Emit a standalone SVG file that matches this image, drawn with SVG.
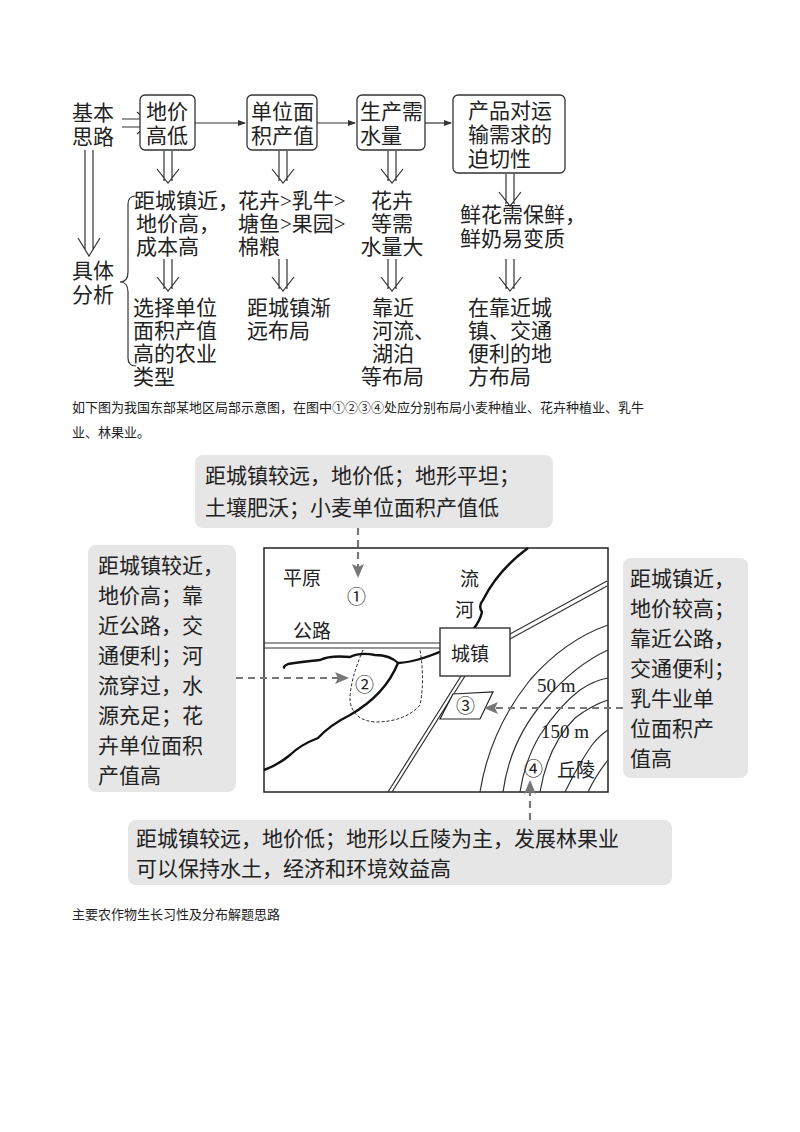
<svg xmlns="http://www.w3.org/2000/svg" width="800" height="1132" viewBox="0 0 800 1132">
<style>
text{font-family:"Liberation Serif","Noto Sans CJK SC",serif;fill:#222}
.t{font-size:21px}
.m{font-size:19px}
.c{font-size:13px}
.box{fill:#fff;stroke:#333;stroke-width:1.3}
.ln{fill:none;stroke:#333;stroke-width:1.2}
.thick{fill:none;stroke:#111;stroke-width:2.4}
.call{fill:#e6e6e6;stroke:none}
.dash{fill:none;stroke:#777;stroke-width:2.2;stroke-dasharray:7 5}
</style>
<defs>
<marker id="ah" markerWidth="8" markerHeight="8" refX="7" refY="4" orient="auto" markerUnits="userSpaceOnUse"><path d="M0,1 L8,4 L0,7 Z" fill="#333"/></marker>
<marker id="gh" markerWidth="14" markerHeight="12" refX="12" refY="6" orient="auto" markerUnits="userSpaceOnUse"><path d="M0,0 L14,6 L0,12 L3,6 Z" fill="#777"/></marker>
<path id="dd" d="M-4,0 V30 M4,0 V30 M-11,18 L0,32 L11,18" fill="none" stroke="#333" stroke-width="1.2"/>
</defs>
<rect width="800" height="1132" fill="#fff"/>
<g id="connectors">
<path class="ln" d="M122,119 H146 M122,127 H146 M137,112 L150,123 L137,134"/>
<path class="ln" d="M195,123 H245" marker-end="url(#ah)"/>
<path class="ln" d="M317,123 H355" marker-end="url(#ah)"/>
<path class="ln" d="M425,123 H451" marker-end="url(#ah)"/>
<path class="ln" d="M85,150 V250 M93,150 V250 M78,238 L89,256 L100,238"/>
<use href="#dd" x="168" y="151"/>
<use href="#dd" x="168" y="259"/>
<use href="#dd" x="283" y="151"/>
<use href="#dd" x="283" y="259"/>
<use href="#dd" x="392" y="151"/>
<use href="#dd" x="392" y="259"/>
<use href="#dd" x="510" y="174"/>
<use href="#dd" x="510" y="259"/>
<path class="ln" d="M136,196 Q128,196 128,204 V272 Q128,282 120,282 Q128,282 128,292 V358 Q128,366 136,366"/>
</g>
<g id="n-jiben"><text class="t" x="72" y="120">基本</text><text class="t" x="72" y="144">思路</text></g>
<g id="n-juti"><text class="t" x="72" y="278">具体</text><text class="t" x="72" y="302">分析</text></g>
<g id="n-b1"><rect class="box" x="140" y="95" width="55" height="55" rx="5"/><text class="t" x="146" y="119">地价</text><text class="t" x="146" y="143">高低</text></g>
<g id="n-b2"><rect class="box" x="247" y="95" width="70" height="55" rx="5"/><text class="t" x="251" y="119">单位面</text><text class="t" x="251" y="143">积产值</text></g>
<g id="n-b3"><rect class="box" x="357" y="95" width="68" height="55" rx="5"/><text class="t" x="360" y="119">生产需</text><text class="t" x="360" y="143">水量</text></g>
<g id="n-b4"><rect class="box" x="453" y="95" width="112" height="78" rx="5"/><text class="t" x="468" y="118">产品对运</text><text class="t" x="468" y="142">输需求的</text><text class="t" x="468" y="166">迫切性</text></g>
<g id="n-c1a"><text class="t" x="134" y="208">距城镇近，</text><text class="t" x="136" y="231">地价高，</text><text class="t" x="136" y="254">成本高</text></g>
<g id="n-c1b"><text class="t" x="133" y="315">选择单位</text><text class="t" x="133" y="338">面积产值</text><text class="t" x="133" y="361">高的农业</text><text class="t" x="133" y="384">类型</text></g>
<g id="n-c2a"><text class="t" x="238" y="208">花卉&gt;乳牛&gt;</text><text class="t" x="238" y="231">塘鱼&gt;果园&gt;</text><text class="t" x="238" y="254">棉粮</text></g>
<g id="n-c2b"><text class="t" x="247" y="315">距城镇渐</text><text class="t" x="247" y="338">远布局</text></g>
<g id="n-c3a" text-anchor="middle"><text class="t" x="392" y="208">花卉</text><text class="t" x="392" y="231">等需</text><text class="t" x="392" y="254">水量大</text></g>
<g id="n-c3b"><text class="t" x="372" y="315">靠近</text><text class="t" x="372" y="338">河流、</text><text class="t" x="372" y="361">湖泊</text><text class="t" x="361" y="384">等布局</text></g>
<g id="n-c4a"><text class="t" x="460" y="222">鲜花需保鲜，</text><text class="t" x="460" y="246">鲜奶易变质</text></g>
<g id="n-c4b"><text class="t" x="468" y="315">在靠近城</text><text class="t" x="468" y="338">镇、交通</text><text class="t" x="468" y="361">便利的地</text><text class="t" x="468" y="384">方布局</text></g>
<text class="c" x="72" y="412">如下图为我国东部某地区局部示意图，在图中①②③④处应分别布局小麦种植业、花卉种植业、乳牛</text>
<text class="c" x="72" y="437">业、林果业。</text>
<g id="map">
<rect x="264" y="548" width="344" height="244" fill="#fff" stroke="#222" stroke-width="1.5"/>
<path class="ln" d="M264,643 H440 M264,648 H440"/>
<path class="ln" d="M510,634 L607,581 M510,639 L607,586"/>
<path class="ln" d="M461,676 L388,792 M465,676 L392,792"/>
<path class="thick" d="M528,548 Q498,570 483,600 Q478,606 482,612 Q478,630 455,645 Q420,662 398,663 Q390,655 375,655 Q360,652 350,657 Q330,655 320,660 Q300,662 288,664 Q282,667 285,668"/>
<path class="thick" d="M398,663 Q385,695 350,715 Q330,725 318,738 Q300,745 290,755 Q278,765 264,770"/>
<path d="M363,650 Q350,680 350,700 Q352,720 375,722 Q405,722 420,705 Q425,680 420,650" fill="none" stroke="#222" stroke-width="1" stroke-dasharray="3 2"/>
<rect x="440" y="628" width="70" height="48" fill="#fff" stroke="#222" stroke-width="1.3"/>
<path d="M453,694 L493,692 L480,719 L440,719 Z" fill="#fff" stroke="#222" stroke-width="1.2"/>
<path class="ln" d="M480,792 Q490,730 530,680 Q565,640 608,625"/>
<path class="ln" d="M503,792 Q510,740 545,700 Q575,665 608,650"/>
<path class="ln" d="M520,792 Q525,760 540,735 Q560,705 580,690 Q595,680 608,678"/>
<path class="ln" d="M540,792 Q548,745 575,718 Q592,705 608,700"/>
<path class="ln" d="M565,792 Q578,765 592,745 Q600,735 608,730"/>
<path class="ln" d="M588,792 Q596,775 608,760"/>
<text class="m" x="283" y="585">平原</text>
<text class="m" x="347" y="604">①</text>
<text class="m" x="460" y="586">流</text>
<text class="m" x="455" y="617">河</text>
<text class="m" x="293" y="638">公路</text>
<text class="m" x="451" y="661">城镇</text>
<text class="m" x="355" y="692">②</text>
<text class="m" x="456" y="713">③</text>
<text class="m" x="537" y="692">50 m</text>
<text class="m" x="541" y="738">150 m</text>
<text class="m" x="524" y="776">④</text>
<text class="m" x="557" y="777">丘陵</text>
</g>
<g id="callouts">
<g id="n-top"><rect class="call" x="195" y="455" width="358" height="73" rx="8"/><text class="t" x="205" y="483">距城镇较远，地价低；地形平坦；</text><text class="t" x="205" y="515">土壤肥沃；小麦单位面积产值低</text></g>
<g id="n-left"><rect class="call" x="88" y="545" width="148" height="247" rx="8"/>
<text class="t" x="98" y="573">距城镇较近，</text><text class="t" x="98" y="603">地价高；靠</text><text class="t" x="98" y="633">近公路，交</text><text class="t" x="98" y="663">通便利；河</text><text class="t" x="98" y="693">流穿过，水</text><text class="t" x="98" y="723">源充足；花</text><text class="t" x="98" y="753">卉单位面积</text><text class="t" x="98" y="783">产值高</text></g>
<g id="n-right"><rect class="call" x="623" y="558" width="125" height="220" rx="8"/>
<text class="t" x="630" y="586">距城镇近，</text><text class="t" x="630" y="616">地价较高；</text><text class="t" x="630" y="646">靠近公路，</text><text class="t" x="630" y="676">交通便利；</text><text class="t" x="630" y="706">乳牛业单</text><text class="t" x="630" y="736">位面积产</text><text class="t" x="630" y="766">值高</text></g>
<g id="n-bottom"><rect class="call" x="128" y="820" width="544" height="65" rx="8"/><text class="t" x="136" y="846">距城镇较远，地价低；地形以丘陵为主，发展林果业</text><text class="t" x="136" y="876">可以保持水土，经济和环境效益高</text></g>
</g>
<g id="dash-arrows">
<path class="dash" d="M358,528 V576" marker-end="url(#gh)"/>
<path class="dash" d="M236,678 H347" marker-end="url(#gh)"/>
<path class="dash" d="M623,708 H486" marker-end="url(#gh)"/>
<path class="dash" d="M530,820 V782" marker-end="url(#gh)"/>
</g>
<text class="c" x="72" y="919">主要农作物生长习性及分布解题思路</text>
</svg>
